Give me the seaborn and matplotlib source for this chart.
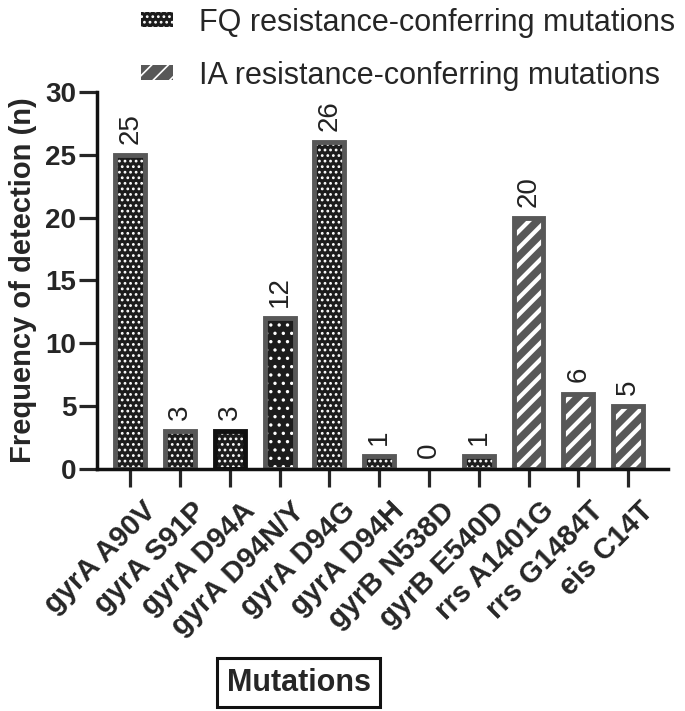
import pandas as pd
import matplotlib.pyplot as plt
import matplotlib.transforms as mtransforms
import seaborn as sns
from matplotlib.patches import Patch

# data
mutations = ['gyrA A90V', 'gyrA S91P', 'gyrA D94A', 'gyrA D94N/Y', 'gyrA D94G',
             'gyrA D94H', 'gyrB N538D', 'gyrB E540D', 'rrs A1401G', 'rrs G1484T',
             'eis C14T']
counts = [25, 3, 3, 12, 26, 1, 0, 1, 20, 6, 5]
groups = ['FQ', 'FQ', 'FQ', 'FQ', 'FQ', 'FQ', 'FQ', 'FQ', 'IA', 'IA', 'IA']
legend_labels = {'FQ': 'FQ resistance-conferring mutations',
                 'IA': 'IA resistance-conferring mutations'}

sns.set_style('ticks')
plt.rcParams['font.family'] = ['Liberation Sans', 'DejaVu Sans']
plt.rcParams['hatch.linewidth'] = 1.2

df = pd.DataFrame({'mutation': mutations, 'count': counts, 'group': groups})

fill_cols = {'FQ': '#1c1c1c', 'IA': '#585858'}
edge_col = '#585858'
hatches = {'FQ': '...', 'IA': '//'}

fig = plt.figure(figsize=(6.85, 7.11), dpi=100)
ax = fig.add_axes([0.1416, 0.3404, 0.8334, 0.5302])

# layer 1: filled bars with white hatching
sns.barplot(data=df, x='mutation', y='count', hue='group', palette=fill_cols,
            dodge=False, width=0.6, saturation=1, legend=False, ax=ax)
fill_bars = list(ax.patches)
for p in fill_bars:
    i = int(round(p.get_x() + p.get_width() / 2))
    h = hatches[groups[i]]
    if mutations[i] == 'gyrA D94N/Y':
        h = '..'
    p.set_hatch(h)
    p.set_edgecolor('white')
    p.set_linewidth(0)
    if hasattr(p, 'set_hatch_linewidth'):
        p.set_hatch_linewidth(3.0 if groups[i] == 'IA' else 1.2)

# layer 2: grey outlines
sns.barplot(data=df, x='mutation', y='count', hue='group',
            palette={'FQ': edge_col, 'IA': edge_col}, dodge=False, width=0.6,
            fill=False, linewidth=3.5, legend=False, ax=ax)
for p in ax.patches[len(fill_bars):]:
    i = int(round(p.get_x() + p.get_width() / 2))
    if counts[i] == 0:
        p.set_linewidth(0)
    if mutations[i] == 'gyrA D94A':
        p.set_edgecolor('#111111')

# value labels
for c in ax.containers[:2]:
    ax.bar_label(c, fmt='%g', rotation=90, padding=8, fontsize=20, color='#222222')

ax.set_xlim(-0.67, 10.8)
ax.set_ylim(0, 30)
ax.set_yticks([0, 5, 10, 15, 20, 25, 30])
ax.set_ylabel('Frequency of detection (n)', fontsize=21, fontweight='bold', labelpad=6)
ax.set_xlabel('')
ax.tick_params(axis='y', length=13, width=2.3, labelsize=20, pad=2)
ax.tick_params(axis='x', length=13, width=2.3, labelsize=21, pad=7)
for lab in ax.get_yticklabels():
    lab.set_fontweight('bold')
shift = mtransforms.ScaledTranslation(0.11, 0, fig.dpi_scale_trans)
for lab in ax.get_xticklabels():
    lab.set_rotation(45)
    lab.set_ha('right')
    lab.set_rotation_mode('anchor')
    lab.set_fontweight('bold')
    lab.set_transform(lab.get_transform() + shift)
sns.despine(ax=ax)
for s in ['left', 'bottom']:
    ax.spines[s].set_linewidth(2.5)
    ax.spines[s].set_color('#111111')

# legend at the top
handles = [Patch(facecolor=fill_cols[g], edgecolor='white', hatch=hatches[g],
                 linewidth=0, label=legend_labels[g]) for g in ['FQ', 'IA']]
fig.legend(handles=handles, loc='upper right', bbox_to_anchor=(1.013, 1.015),
           frameon=False, fontsize=22, handlelength=1.05, handleheight=0.4,
           handletextpad=0.85, labelspacing=0.75, borderaxespad=0.2)

# boxed axis title
fig.text(0.436, 0.04, 'Mutations', fontsize=22, fontweight='bold', ha='center',
         va='center', bbox=dict(boxstyle='square,pad=0.3', facecolor='white',
                                 edgecolor='#111111', linewidth=2.2))

fig.savefig('out.png', dpi=100)
